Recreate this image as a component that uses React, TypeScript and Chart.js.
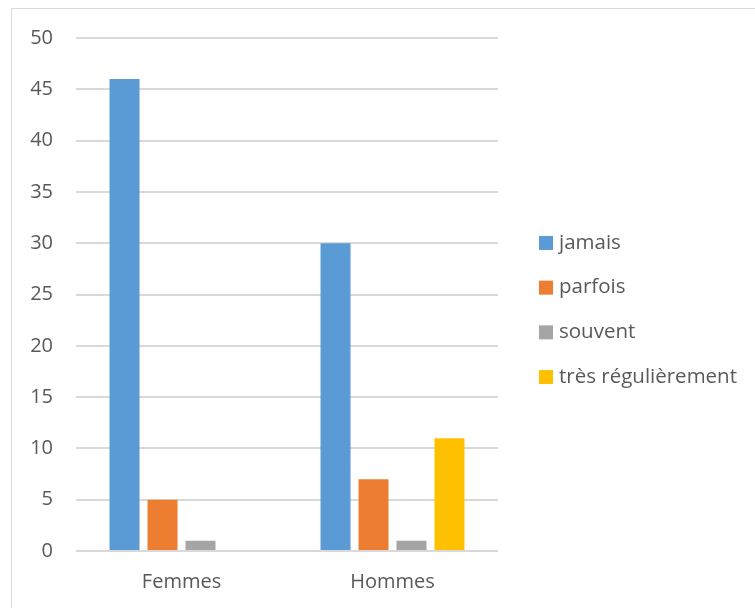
import React, { useEffect, useRef } from "react";
import { Chart, registerables } from "chart.js";

Chart.register(...registerables);

const categories = ["Femmes", "Hommes"];
const seriesNames = ["jamais", "parfois", "souvent", "très régulièrement"];
const jamais = [46, 30];
const parfois = [5, 7];
const souvent = [1, 1];
const tresRegulierement = [0, 11];
const seriesColors = ["#5B9BD5", "#ED7D31", "#A5A5A5", "#FFC000"];
const yTicks = [0, 5, 10, 15, 20, 25, 30, 35, 40, 45, 50];

const FONT = "'Open Sans', sans-serif";
const TEXT = "#595959";

const sideLegend = {
  id: "sideLegend",
  afterDraw(chart: any) {
    const { ctx, chartArea, height } = chart;
    const ds = chart.data.datasets;
    const pitch = 44.7;
    const box = 14;
    const total = pitch * (ds.length - 1);
    const startY = height / 2 + 1.5 - total / 2;
    const x = chartArea.right + 41;
    ctx.save();
    ctx.font = `20.5px ${FONT}`;
    ctx.textBaseline = "middle";
    ctx.textAlign = "left";
    ds.forEach((d: any, i: number) => {
      const cy = startY + i * pitch;
      ctx.fillStyle = d.backgroundColor;
      ctx.fillRect(x, cy - box / 2, box, box);
      ctx.fillStyle = TEXT;
      ctx.fillText(d.label, x + box + 6, cy);
    });
    ctx.restore();
  },
};

export default function App() {
  const ref = useRef<HTMLCanvasElement | null>(null);
  useEffect(() => {
    if (!ref.current) return;
    const values = [jamais, parfois, souvent, tresRegulierement];
    const chart = new Chart(ref.current, {
      type: "bar",
      data: {
        labels: categories,
        datasets: seriesNames.map((name, i) => ({
          label: name,
          data: values[i],
          backgroundColor: seriesColors[i],
          borderWidth: 0,
          categoryPercentage: 0.72,
          barPercentage: 0.79,
        })),
      },
      options: {
        responsive: false,
        animation: false,
        devicePixelRatio: 1,
        layout: { padding: { top: 29, right: 257, left: 0, bottom: 0 } },
        plugins: {
          legend: { display: false },
          tooltip: { enabled: false },
        },
        scales: {
          x: {
            grid: { display: false },
            border: { display: false },
            ticks: {
              color: TEXT,
              font: { family: FONT, size: 20 },
              padding: 11,
            },
            afterFit(scale: any) {
              scale.height = 57;
            },
          },
          y: {
            min: 0,
            max: 50,
            afterBuildTicks(scale: any) {
              scale.ticks = yTicks.map((v) => ({ value: v }));
            },
            grid: { color: "#d9d9d9", lineWidth: 2, drawTicks: false },
            border: { display: false },
            ticks: {
              color: TEXT,
              font: { family: FONT, size: 20 },
              padding: 23,
            },
            afterFit(scale: any) {
              scale.width = 64;
              scale.paddingTop = 0;
              scale.paddingBottom = 0;
            },
          },
        },
      },
      plugins: [sideLegend],
    });
    return () => chart.destroy();
  }, []);

  return (
    <div
      style={{
        position: "fixed",
        left: 0,
        top: 0,
        width: 755,
        height: 608,
        overflow: "hidden",
        background: "#fff",
      }}
    >
      <div
        style={{
          position: "absolute",
          left: 11,
          top: 8,
          width: 760,
          height: 620,
          border: "1px solid #d9d9d9",
          boxSizing: "border-box",
        }}
      >
        <canvas
          ref={ref}
          width={743}
          height={599}
          style={{ position: "absolute", left: 0, top: 0, width: 743, height: 599 }}
        />
      </div>
    </div>
  );
}
